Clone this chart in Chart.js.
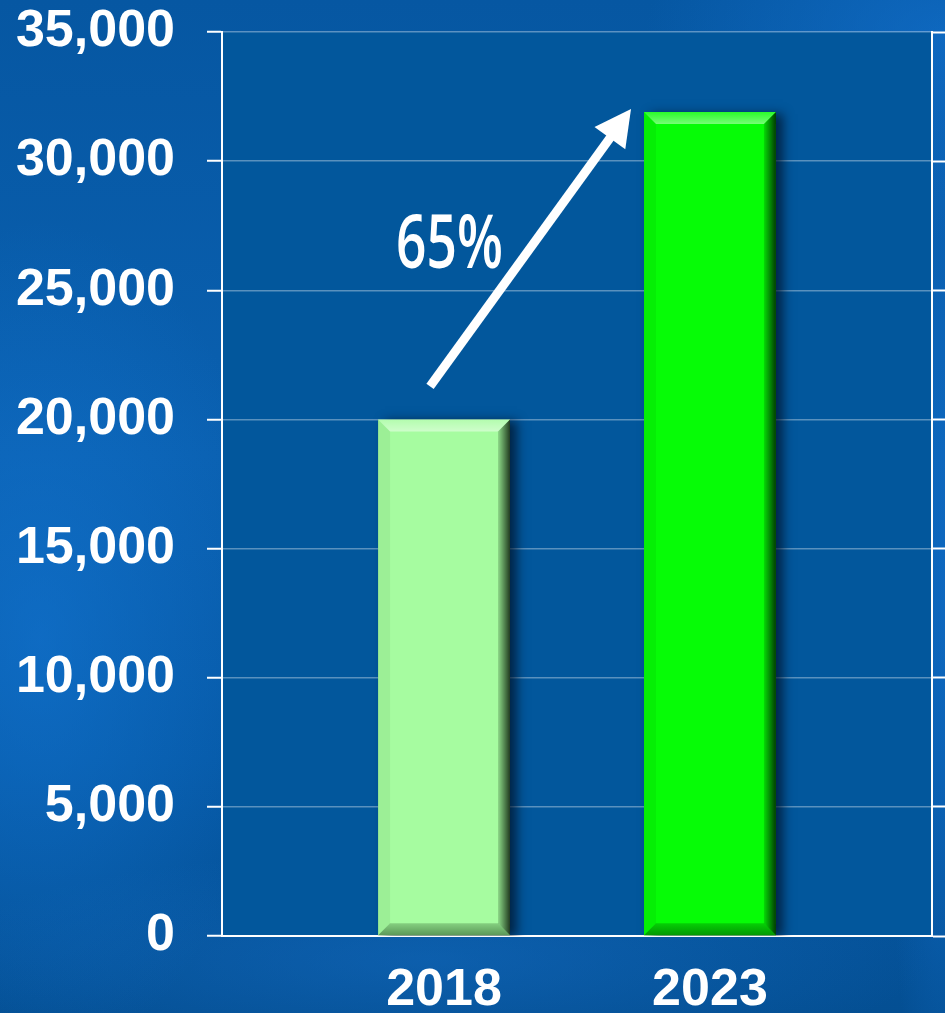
<!DOCTYPE html>
<html>
<head>
<meta charset="utf-8">
<script src="https://cdn.jsdelivr.net/npm/chart.js@4/dist/chart.umd.min.js"></script>
<style>
  html, body { margin: 0; padding: 0; overflow: hidden; }
  body {
    width: 945px; height: 1013px;
    background:
      radial-gradient(ellipse 240px 420px at 40px 640px, rgba(20,120,215,0.55), rgba(20,120,215,0) 100%),
      radial-gradient(ellipse 300px 200px at 945px 40px, rgba(20,115,210,0.6), rgba(20,115,210,0) 100%),
      radial-gradient(ellipse 60px 600px at 945px 600px, rgba(20,115,210,0.5), rgba(20,115,210,0) 100%),
      radial-gradient(ellipse 500px 110px at 430px 960px, rgba(25,115,205,0.4), rgba(25,115,205,0) 100%),
      linear-gradient(180deg, #0657a2 0%, #0a60b0 45%, #0659a6 75%, #044f93 100%);
  }
  #wrap { position: absolute; left: 0; top: 0; width: 945px; height: 1013px; }
</style>
</head>
<body>
<div id="wrap"><canvas id="chart" width="945" height="1013"></canvas></div>
<script>
const years = ['2018', '2023'];
const values = [20000, 31900];
const barColors = ['#a6fca0', '#06fc06'];
const yTicks = [0, 5000, 10000, 15000, 20000, 25000, 30000, 35000];
const growthLabel = '65%';

// plot area fill
const plotBackground = {
    id: 'plotBackground',
    beforeDraw(chart) {
        const { ctx, chartArea: a } = chart;
        ctx.save();
        ctx.fillStyle = '#02579c';
        ctx.fillRect(a.left, a.top, a.right - a.left, a.bottom - a.top);
        ctx.restore();
    }
};

// soft shadow under the bars, then bevel edges on top of them
const bevelBars = {
    id: 'bevelBars',
    beforeDatasetsDraw(chart) {
        const ctx = chart.ctx;
        ctx.save();
        ctx.shadowColor = 'rgba(0,15,35,0.7)';
        ctx.shadowBlur = 10;
        ctx.shadowOffsetX = 7;
        ctx.shadowOffsetY = 2;
    },
    afterDatasetsDraw(chart) {
        const ctx = chart.ctx;
        ctx.restore();
        const b = 12;
        chart.getDatasetMeta(0).data.forEach(bar => {
            const l = bar.x - bar.width / 2, r = bar.x + bar.width / 2;
            const t = bar.y, btm = bar.base;
            const poly = (pts, fill) => {
                ctx.beginPath();
                ctx.moveTo(pts[0][0], pts[0][1]);
                pts.slice(1).forEach(p => ctx.lineTo(p[0], p[1]));
                ctx.closePath();
                ctx.fillStyle = fill;
                ctx.fill();
            };
            ctx.save();
            const top = ctx.createLinearGradient(0, t, 0, t + b);
            top.addColorStop(0, 'rgba(255,255,255,0.15)');
            top.addColorStop(1, 'rgba(255,255,255,0.45)');
            poly([[l, t], [r, t], [r - b, t + b], [l + b, t + b]], top);
            const side = ctx.createLinearGradient(r - b, 0, r, 0);
            side.addColorStop(0, 'rgba(0,20,0,0.15)');
            side.addColorStop(1, 'rgba(0,10,0,0.8)');
            poly([[r, t], [r, btm], [r - b, btm - b], [r - b, t + b]], side);
            poly([[l, t], [l + b, t + b], [l + b, btm - b], [l, btm]], 'rgba(0,40,0,0.06)');
            const bot = ctx.createLinearGradient(0, btm - b, 0, btm);
            bot.addColorStop(0, 'rgba(0,30,0,0.2)');
            bot.addColorStop(1, 'rgba(0,30,0,0.45)');
            poly([[l, btm], [l + b, btm - b], [r - b, btm - b], [r, btm]], bot);
            ctx.restore();
        });
    }
};

// growth arrow from the first bar to the top of the second
const growthArrow = {
    id: 'growthArrow',
    afterDraw(chart) {
        const ctx = chart.ctx;
        const bars = chart.getDatasetMeta(0).data;
        const x0 = bars[0].x - 14, y0 = bars[0].y - 33;
        const x1 = bars[1].x - bars[1].width / 2 - 13, y1 = bars[1].y - 3;
        const ang = Math.atan2(y1 - y0, x1 - x0);
        const head = 36, half = 19;
        const bx = x1 - head * Math.cos(ang), by = y1 - head * Math.sin(ang);
        ctx.save();
        ctx.strokeStyle = '#ffffff';
        ctx.fillStyle = '#ffffff';
        ctx.lineWidth = 9;
        ctx.beginPath();
        ctx.moveTo(x0, y0);
        ctx.lineTo(bx + 4 * Math.cos(ang), by + 4 * Math.sin(ang));
        ctx.stroke();
        ctx.beginPath();
        ctx.moveTo(x1, y1);
        ctx.lineTo(bx - half * Math.sin(ang), by + half * Math.cos(ang));
        ctx.lineTo(bx + half * Math.sin(ang), by - half * Math.cos(ang));
        ctx.closePath();
        ctx.fill();

        // label left of the arrow's middle
        const mx = (x0 + x1) / 2, my = (y0 + y1) / 2;
        ctx.translate(mx - 81, my + 20);
        ctx.scale(0.72, 1);
        ctx.font = '600 74px "Open Sans"';
        ctx.textAlign = 'center';
        ctx.textBaseline = 'alphabetic';
        ctx.fillText(growthLabel, 0, 0);
        ctx.restore();
    }
};

const $ctx = document.getElementById('chart');
const tickFont = { family: '"Liberation Sans", Arial, sans-serif', size: 52, weight: 'bold' };

new Chart($ctx, {
    type: 'bar',
    data: {
        datasets: [{
            data: years.map((y, i) => ({ x: i, y: values[i] })),
            backgroundColor: barColors,
            borderWidth: 0,
            categoryPercentage: 1,
            barPercentage: 0.496
        }]
    },
    options: {
        responsive: false,
        animation: false,
        layout: { padding: { left: 10, top: 32, right: 0, bottom: 0 } },
        plugins: {
            legend: { display: false },
            tooltip: { enabled: false }
        },
        scales: {
            x: {
                type: 'linear',
                offset: false,
                bounds: 'data',
                min: -0.835,
                max: 1.835,
                afterBuildTicks: scale => {
                    scale.ticks = years.map((y, i) => ({ value: i }));
                },
                afterFit: scale => {
                    scale.height = 77;
                    scale.paddingLeft = 0;
                    scale.paddingRight = 0;
                },
                grid: { display: false, offset: false, tickLength: 0 },
                border: { display: true, color: '#ffffff', width: 2 },
                ticks: {
                    color: '#ffffff',
                    padding: 23,
                    maxRotation: 0,
                    font: tickFont,
                    callback: v => years[v] ?? ''
                }
            },
            y: {
                min: 0,
                max: 35000,
                afterBuildTicks: scale => {
                    scale.ticks = yTicks.map(v => ({ value: v }));
                },
                afterFit: scale => {
                    scale.width = 212;
                    scale.paddingTop = 0;
                    scale.paddingBottom = 0;
                },
                grid: {
                    color: 'rgba(255,255,255,0.35)',
                    lineWidth: 1.5,
                    tickColor: '#ffffff',
                    tickWidth: 2,
                    tickLength: 15
                },
                border: { display: true, color: '#ffffff', width: 2 },
                ticks: {
                    color: '#ffffff',
                    padding: 32,
                    font: tickFont,
                    callback: v => v.toLocaleString('en-US')
                }
            },
            y2: {
                position: 'right',
                min: 0,
                max: 35000,
                afterBuildTicks: scale => {
                    scale.ticks = yTicks.map(v => ({ value: v }));
                },
                afterFit: scale => {
                    scale.width = 13;
                    scale.paddingTop = 0;
                    scale.paddingBottom = 0;
                },
                grid: {
                    drawOnChartArea: false,
                    tickColor: '#ffffff',
                    tickWidth: 2,
                    tickLength: 13
                },
                border: { display: true, color: '#ffffff', width: 2 },
                ticks: { display: false }
            }
        }
    },
    plugins: [plotBackground, bevelBars, growthArrow]
});
</script>
</body>
</html>
